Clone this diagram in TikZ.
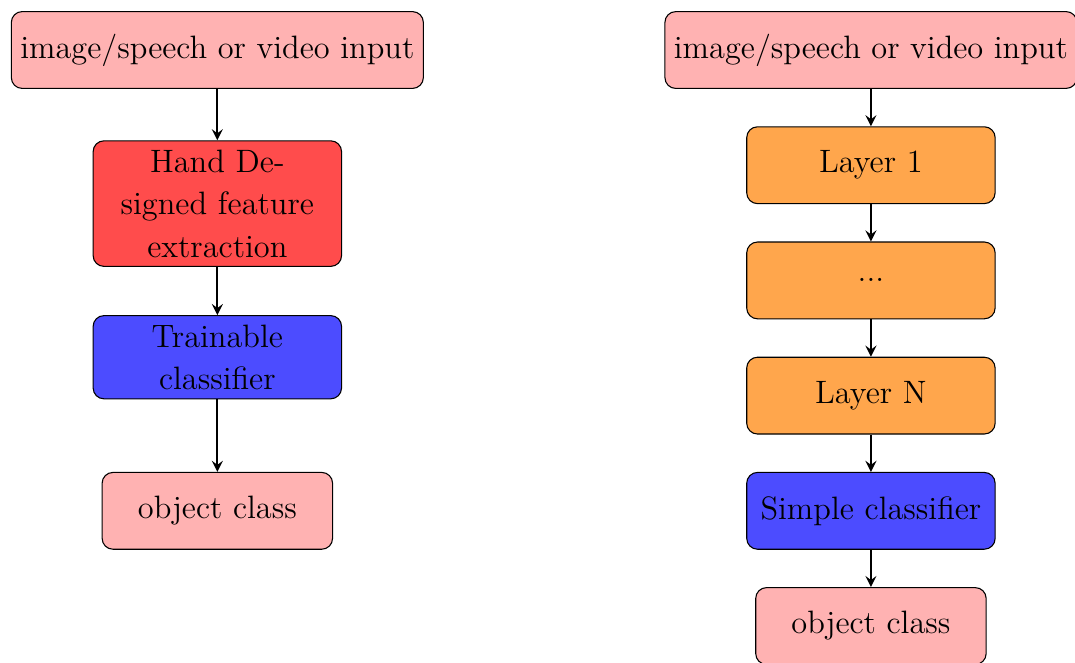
\documentclass[tikz,border=0pt]{standalone}
\usetikzlibrary{positioning}
\begin{document}
\begin{tikzpicture}[
    font=\fontsize{12}{15.7}\selectfont,
    on grid,
    io/.style={rectangle, rounded corners, minimum width=3cm, minimum height=1cm, text centered, draw=black, fill=red!30},
    handfeat/.style={rectangle, rounded corners, text width=3cm, minimum height=1cm, text centered, draw=black, fill=red!70},
    classif/.style={rectangle, rounded corners, text width=3cm, minimum height=1cm, text centered, draw=black, fill=blue!70},
    layer/.style={rectangle, rounded corners, text width=3cm, minimum height=1cm, text centered, draw=black, fill=orange!70},
    arrow/.style={thick, ->, >=stealth}
]
\useasboundingbox (0,0) rectangle (13.997,-8.62);

% Left: classic pipeline
\node[io] (inleft) at (2.83,-0.651) {image/speech or video input};
\node[handfeat, below=2cm of inleft] (hand) {Hand Designed feature extraction};
\node[classif, below=2cm of hand] (train) {Trainable classifier};
\node[io, below=2cm of train] (outleft) {object class};

% Right: deep pipeline
\node[io] (inright) at (11.34,-0.651) {image/speech or video input};
\node[layer, below=1.5cm of inright] (layer1) {Layer 1};
\node[layer, below=1.5cm of layer1] (dots) {...};
\node[layer, below=1.5cm of dots] (layerN) {Layer N};
\node[classif, below=1.5cm of layerN] (simple) {Simple classifier};
\node[io, below=1.5cm of simple] (outright) {object class};

% Arrows
\draw[arrow] (inleft) -- (hand);
\draw[arrow] (hand) -- (train);
\draw[arrow] (train) -- (outleft);

\draw[arrow] (inright) -- (layer1);
\draw[arrow] (layer1) -- (dots);
\draw[arrow] (dots) -- (layerN);
\draw[arrow] (layerN) -- (simple);
\draw[arrow] (simple) -- (outright);

\end{tikzpicture}
\end{document}
